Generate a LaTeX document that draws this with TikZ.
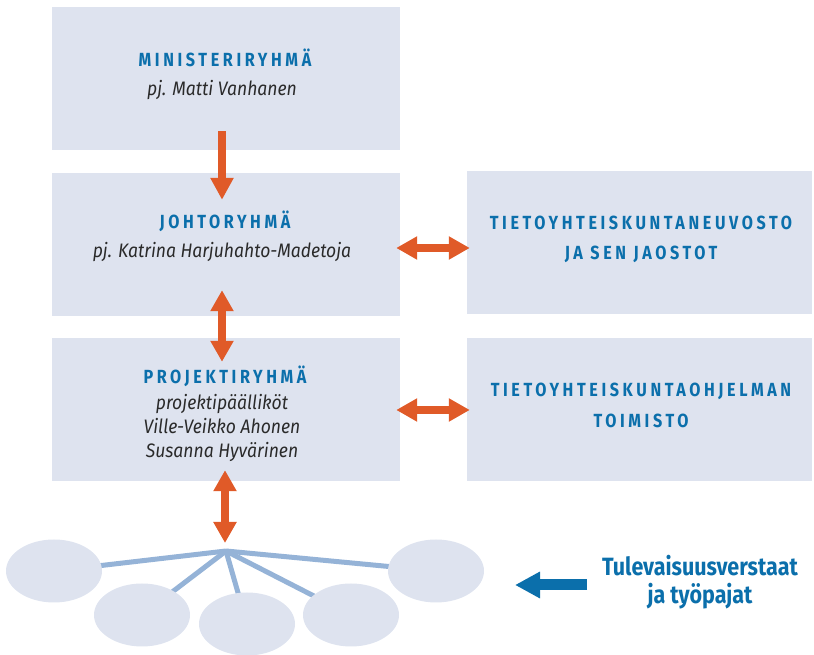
\documentclass[tikz,border=0pt]{standalone}
\usepackage{fontspec}
\setmainfont{Fira Sans}
\newfontfamily\headfont[LetterSpace=19,FakeStretch=0.85]{Fira Sans}
\newfontfamily\subfont[FakeStretch=0.9]{Fira Sans}
\newfontfamily\tulfont[FakeStretch=0.86]{Fira Sans}
\usetikzlibrary{arrows.meta,shapes.geometric,calc,backgrounds}
\definecolor{boxfill}{HTML}{DEE3EF}
\definecolor{hblue}{HTML}{0B6FAB}
\definecolor{orng}{HTML}{E05A28}
\definecolor{lineblue}{HTML}{95B3D7}
\definecolor{txtgray}{HTML}{2A2A2A}
\tikzset{
  box/.style={fill=boxfill, draw=none, minimum width=348pt, minimum height=143pt, inner sep=0pt},
  rbox/.style={box, minimum width=345pt},
  head/.style={font=\headfont\bfseries\fontsize{19}{22}\selectfont, text=hblue, anchor=base, inner sep=0pt},
  sub/.style={font=\subfont\itshape\fontsize{19.5}{24}\selectfont, text=txtgray, anchor=base, inner sep=0pt},
  ell/.style={ellipse, fill=boxfill, draw=none, minimum width=96pt, minimum height=63pt, inner sep=0pt},
  oarr/.style={draw=orng, line width=8pt, -{Triangle[length=22pt,width=22pt]}},
  odbl/.style={draw=orng, line width=8pt, {Triangle[length=21pt,width=22pt]}-{Triangle[length=21pt,width=22pt]}},
  barr/.style={draw=hblue, line width=11pt, -{Triangle[length=25pt,width=25pt]}},
  spoke/.style={draw=lineblue, line width=5pt},
}
\begin{document}
\begin{tikzpicture}[x=1pt,y=1pt]
\useasboundingbox (0,0) rectangle (814,655);
% boxes
\node[box] (m) at (226,576.5) {};
\node[box] (j) at (226,410.5) {};
\node[box] (p) at (226,245.5) {};
\node[rbox] (r1) at (639.5,412.5) {};
\node[rbox] (r2) at (639.5,245.5) {};
% texts
\node[head] (mt) at (225,588) {MINISTERIRYHMÄ};
\node[sub] (ms) at (222,559) {pj. Matti Vanhanen};
\node[head] (jt) at (225,426) {JOHTORYHMÄ};
\node[sub] (js) at (222,397) {pj. Katrina Harjuhahto-Madetoja};
\node[head] (pt) at (225,271) {PROJEKTIRYHMÄ};
\node[sub] (ps1) at (222,245) {projektipäälliköt};
\node[sub] (ps2) at (222,221) {Ville-Veikko Ahonen};
\node[sub] (ps3) at (222,197) {Susanna Hyvärinen};
\node[head] (r1a) at (641,425) {TIETOYHTEISKUNTANEUVOSTO};
\node[head] (r1b) at (641,395) {JA SEN JAOSTOT};
\node[head] (r2a) at (641,258) {TIETOYHTEISKUNTAOHJELMAN};
\node[head] (r2b) at (641,227) {TOIMISTO};
% orange arrows
\draw[oarr] ([shift={(-4,19)}]m.south) -- ([shift={(-4,-27)}]j.north);
\draw[odbl] ([shift={(-4,26)}]j.south) -- ([shift={(-4,-24)}]p.north);
\draw[odbl] ($(j.east)+(-4,-3.5)$) -- ($(r1.west)+(3,-5.5)$);
\draw[odbl] ($(p.east)+(-4,-0.5)$) -- ($(r2.west)+(3,-0.5)$);
% bottom network
\coordinate (hub) at (226,104);
\node[ell] (e1) at (54,84) {};
\node[ell] (e2) at (142,40) {};
\node[ell] (e3) at (247,31) {};
\node[ell] (e4) at (351,40) {};
\node[ell] (e5) at (436,84) {};
\begin{scope}[on background layer]
\draw[spoke] (hub) -- (e1.center);
\draw[spoke] (hub) -- (e2.center);
\draw[spoke] (hub) -- (e3.center);
\draw[spoke] (hub) -- (e4.center);
\draw[spoke] (hub) -- (e5.center);
\end{scope}
\draw[odbl] ([shift={(-1,11)}]p.south) -- ([shift={(-1,8)}]hub);
% legend
\node[font=\tulfont\bfseries\fontsize{25}{28}\selectfont, text=hblue, align=center, inner sep=0pt] (tul) at (700,73) {Tulevaisuusverstaat\\ja työpajat};
\coordinate (bstart) at (587,70);
\coordinate (btip) at (515,70);
\draw[barr] (bstart) -- (btip);
\end{tikzpicture}
\end{document}
